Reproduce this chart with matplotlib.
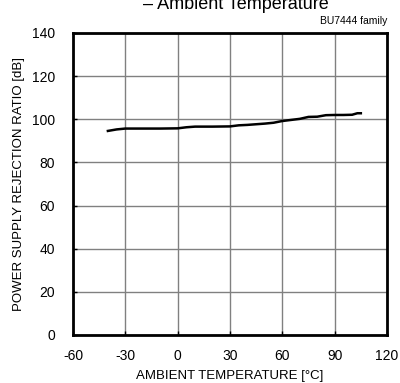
import matplotlib
matplotlib.use("Agg")
import matplotlib.pyplot as plt

plt.rcParams['font.family'] = ['Liberation Sans', 'DejaVu Sans']

# data
temp = [-40, -35, -30, -20, -10, 0, 5, 10, 20, 30, 35, 40, 50, 55, 60, 65, 70, 75, 80, 85, 90, 95, 100, 103, 105]
psrr = [94.6, 95.3, 95.7, 95.7, 95.7, 95.8, 96.3, 96.6, 96.6, 96.7, 97.2, 97.4, 98.0, 98.4, 99.2, 99.7, 100.2, 101.1, 101.2, 101.9, 102.0, 102.0, 102.1, 102.8, 102.8]

xticks = [-60, -30, 0, 30, 60, 90, 120]
yticks = [0, 20, 40, 60, 80, 100, 120, 140]

fig = plt.figure(figsize=(4.0, 3.83), dpi=100)
ax = fig.add_axes([73/400, 1-335/383, 314/400, 302/383])

ax.plot(temp, psrr, color='black', lw=1.8)

ax.set_xlim(-60, 120)
ax.set_ylim(0, 140)
ax.set_xticks(xticks)
ax.set_yticks(yticks)
ax.set_xticklabels([str(t) for t in xticks])
ax.grid(True, color='#808080', lw=1.0)
ax.tick_params(direction='in', length=3, width=1, labelsize=10)
ax.tick_params(axis='x', pad=10)
ax.tick_params(axis='y', pad=13)
for s in ax.spines.values():
    s.set_linewidth(2)
    s.set_color('black')

ax.set_xlabel('AMBIENT TEMPERATURE [°C]', fontsize=9.5, labelpad=5)
ax.set_ylabel('POWER SUPPLY REJECTION RATIO [dB]', fontsize=9.5, labelpad=5)

fig.text(0.59, 1.0 - 9/383, '– Ambient Temperature', fontsize=13, ha='center', va='baseline')
fig.text(387/400, 1.0 - 24/383, 'BU7444 family', fontsize=7.5, ha='right', va='baseline')

fig.savefig('out.png', dpi=100)
